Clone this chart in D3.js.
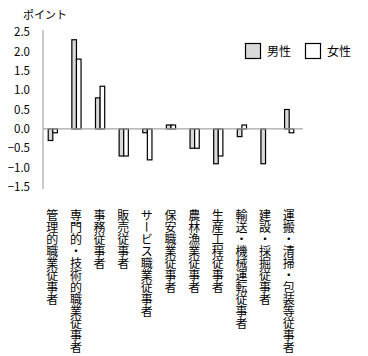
<!DOCTYPE html>
<html><head><meta charset="utf-8">
<script src="https://cdn.jsdelivr.net/npm/d3@7"></script>
<style>
body{margin:0;background:#fff;}
text{font-family:"Noto Sans CJK JP",sans-serif;}
</style></head>
<body><svg id="c" width="368" height="356"></svg>
<script>
const categories = ["管理的職業従事者","専門的・技術的職業従事者","事務従事者","販売従事者","サービス職業従事者","保安職業従事者","農林漁業従事者","生産工程従事者","輸送・機械運転従事者","建設・採掘従事者","運搬・清掃・包装等従事者"];
const seriesNames = ["男性","女性"];
const male = [-0.3, 2.3, 0.8, -0.7, -0.1, 0.1, -0.5, -0.9, -0.2, -0.9, 0.5];
const female = [-0.1, 1.8, 1.1, -0.7, -0.8, 0.1, -0.5, -0.7, 0.1, 0.0, -0.1];
const yTicks = [2.5, 2.0, 1.5, 1.0, 0.5, 0.0, -0.5, -1.0, -1.5];
const yTitle = "ポイント";

const svg = d3.select("#c");
const y = d3.scaleLinear().domain([-1.5, 2.5]).range([187, 32]);
const x0 = d3.scaleBand().domain(categories).range([40.5, 300.5]).paddingInner(0).paddingOuter(0);
const x1 = d3.scaleBand().domain(seriesNames).range([0, x0.bandwidth()]).paddingInner(0).paddingOuter(1.57);
const fills = {"男性":"#d9d9d9","女性":"#ffffff"};

// y axis labels
const yAxis = d3.axisLeft(y).tickValues(yTicks).tickFormat(d3.format(".1f")).tickSize(0).tickPadding(13);
const ga = svg.append("g").attr("transform","translate(43,0)").call(yAxis);
ga.select(".domain").remove();
ga.selectAll("text").attr("font-family","'DejaVu Sans',sans-serif").attr("font-size",11.5).attr("fill","#000");
svg.append("line").attr("x1",43).attr("x2",43).attr("y1",y(2.5)-2).attr("y2",y(-1.5)+2).attr("stroke","#a6a6a6").attr("stroke-width",1.2);

svg.append("text").attr("x",23).attr("y",19).attr("font-size",11).text(yTitle);

const data = categories.map((c,i)=>({c, vals:[{s:"男性",v:male[i]},{s:"女性",v:female[i]}]}));
const g = svg.append("g");
g.selectAll("g").data(data).join("g")
  .attr("transform", d=>`translate(${x0(d.c)},0)`)
  .selectAll("rect").data(d=>d.vals).join("rect")
  .attr("x", d=>x1(d.s)+0.5)
  .attr("width", x1.bandwidth())
  .attr("y", d=>Math.min(y(d.v), y(0)))
  .attr("height", d=>Math.abs(y(d.v)-y(0)))
  .attr("fill", d=>fills[d.s])
  .attr("stroke", "#000").attr("stroke-width", 1.2);

// zero line
svg.append("line").attr("x1",43).attr("x2",303).attr("y1",y(0)).attr("y2",y(0)).attr("stroke","#a6a6a6").attr("stroke-width",1.2);

// category labels vertical
svg.append("g").selectAll("text").data(categories).join("text")
  .attr("x", d=>x0(d)+x0.bandwidth()/2)
  .attr("y", 209)
  .attr("font-size", 12)
  .style("writing-mode","vertical-rl")
  .style("text-orientation","upright")
  .text(d=>d);

// legend
const lg = svg.append("g");
const legendX = [245, 305];
seriesNames.forEach((s,i)=>{
  lg.append("rect").attr("x",legendX[i]+0.5).attr("y",43.5).attr("width",15).attr("height",15).attr("fill",fills[s]).attr("stroke","#000").attr("stroke-width",1.2);
  lg.append("text").attr("x",legendX[i]+22).attr("y",56).attr("font-size",12).text(s);
});
</script></body></html>
